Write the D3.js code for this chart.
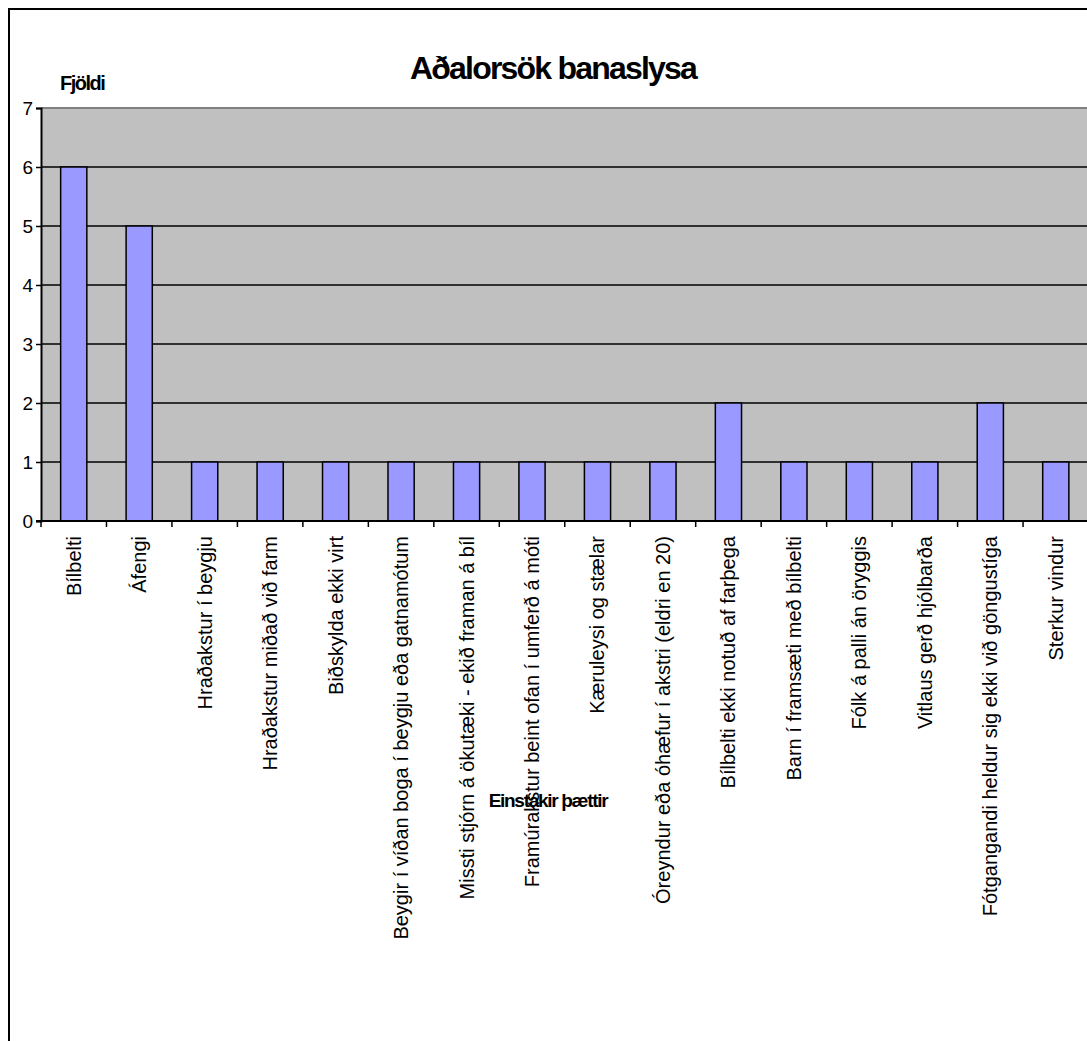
<!DOCTYPE html>
<html>
<head>
<meta charset="utf-8">
<script src="https://cdn.jsdelivr.net/npm/d3@7"></script>
<style>
  html, body { margin: 0; padding: 0; background: #fff; }
  svg { display: block; font-family: Arial, "Liberation Sans", sans-serif; }
</style>
</head>
<body>
<svg id="chart" width="1087" height="1041"></svg>
<script>
// Main causes of fatal accidents: number of cases per factor
const categories = [
  "Bílbelti",
  "Áfengi",
  "Hraðakstur í beygju",
  "Hraðakstur miðað við farm",
  "Biðskylda ekki virt",
  "Beygir í víðan boga í beygju eða gatnamótum",
  "Missti stjórn á ökutæki - ekið framan á bíl",
  "Framúrakstur beint ofan í umferð á móti",
  "Kæruleysi og stælar",
  "Óreyndur eða óhæfur í akstri (eldri en 20)",
  "Bílbelti ekki notuð af farþega",
  "Barn í framsæti með bílbelti",
  "Fólk á palli án öryggis",
  "Vitlaus gerð hjólbarða",
  "Fótgangandi heldur sig ekki við göngustíga",
  "Sterkur vindur"
];
const counts = [6, 5, 1, 1, 1, 1, 1, 1, 1, 1, 2, 1, 1, 1, 2, 1];
const yTicks = [0, 1, 2, 3, 4, 5, 6, 7];

const titleText = "Aðalorsök banaslysa";
const yTitle = "Fjöldi";
const xTitle = "Einstakir þættir";

const svg = d3.select("#chart");

// outer chart frame (extends past the right and bottom edges)
svg.append("rect")
  .attr("x", 9).attr("y", 9)
  .attr("width", 1200).attr("height", 1200)
  .attr("fill", "#fff")
  .attr("stroke", "#000").attr("stroke-width", 2);

const plot = { left: 41, top: 108, bottom: 521 };
const band = 65.47;
plot.right = plot.left + band * categories.length;

const x = d3.scaleBand()
  .domain(categories)
  .range([plot.left, plot.right])
  .paddingInner(0.6).paddingOuter(0.3);

const xEdges = d3.scaleLinear()
  .domain([0, categories.length])
  .range([plot.left, plot.right]);

const y = d3.scaleLinear()
  .domain([0, 7])
  .range([plot.bottom, plot.top]);

// plot area
svg.append("rect")
  .attr("x", plot.left).attr("y", plot.top)
  .attr("width", plot.right - plot.left)
  .attr("height", plot.bottom - plot.top)
  .attr("fill", "#c0c0c0");

// top border of plot area
svg.append("line")
  .attr("x1", plot.left).attr("x2", plot.right)
  .attr("y1", plot.top).attr("y2", plot.top)
  .attr("stroke", "#808080").attr("stroke-width", 2);

// horizontal gridlines
svg.append("g")
  .selectAll("line")
  .data(yTicks.filter(d => d > 0 && d < 7))
  .join("line")
  .attr("x1", plot.left).attr("x2", plot.right)
  .attr("y1", d => y(d)).attr("y2", d => y(d))
  .attr("stroke", "#000").attr("stroke-width", 1.5);

// bars
svg.append("g")
  .selectAll("rect")
  .data(categories)
  .join("rect")
  .attr("x", d => x(d))
  .attr("y", (d, i) => y(counts[i]))
  .attr("width", x.bandwidth())
  .attr("height", (d, i) => y(0) - y(counts[i]))
  .attr("fill", "#9999ff")
  .attr("stroke", "#000").attr("stroke-width", 1.5);

// y axis
const yAxis = svg.append("g")
  .attr("transform", `translate(${plot.left},0)`)
  .call(d3.axisLeft(y).tickValues(yTicks).tickFormat(d3.format("d")).tickSize(5).tickPadding(3));
yAxis.select(".domain").attr("stroke", "#000").attr("stroke-width", 2);
yAxis.selectAll(".tick line").attr("stroke", "#000").attr("stroke-width", 1.5);
yAxis.selectAll(".tick text")
  .attr("font-size", 19).attr("fill", "#000")
  .attr("font-family", "Arial, 'Liberation Sans', sans-serif");

// x axis baseline and category boundary ticks
svg.append("line")
  .attr("x1", plot.left - 5).attr("x2", plot.right)
  .attr("y1", plot.bottom).attr("y2", plot.bottom)
  .attr("stroke", "#000").attr("stroke-width", 2);
svg.append("g")
  .selectAll("line")
  .data(d3.range(categories.length + 1))
  .join("line")
  .attr("x1", d => xEdges(d)).attr("x2", d => xEdges(d))
  .attr("y1", plot.bottom).attr("y2", plot.bottom + 6)
  .attr("stroke", "#000").attr("stroke-width", 1.5);

// rotated category labels
svg.append("g")
  .selectAll("text")
  .data(categories)
  .join("text")
  .attr("transform", d => `translate(${x(d) + x.bandwidth() / 2 + 7},${plot.bottom + 15}) rotate(-90)`)
  .attr("text-anchor", "end")
  .attr("font-size", 20)
  .attr("fill", "#000")
  .text(d => d);

// chart title
svg.append("text")
  .attr("x", 553).attr("y", 79)
  .attr("text-anchor", "middle")
  .attr("font-size", 32).attr("font-weight", "bold")
  .attr("letter-spacing", -1.8)
  .attr("fill", "#000")
  .text(titleText);

// y axis title
svg.append("text")
  .attr("x", 60).attr("y", 90)
  .attr("font-size", 20).attr("font-weight", "bold")
  .attr("letter-spacing", -1.5)
  .attr("fill", "#000")
  .text(yTitle);

// x axis title
svg.append("text")
  .attr("x", 548).attr("y", 807)
  .attr("text-anchor", "middle")
  .attr("font-size", 19).attr("font-weight", "bold")
  .attr("letter-spacing", -1.3)
  .attr("fill", "#000")
  .text(xTitle);
</script>
</body>
</html>
